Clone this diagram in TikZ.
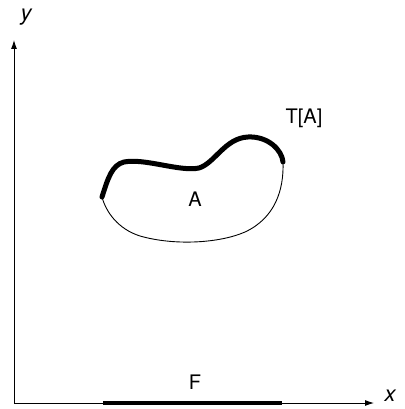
\documentclass[tikz,border=0pt]{standalone}
\usepackage{fontspec}
\setmainfont{TeX Gyre Heros}
\usetikzlibrary{arrows.meta}
\begin{document}
\begin{tikzpicture}[x=1pt,y=-1pt,
  axis/.style={line width=0.9pt,-{Latex[length=9pt,width=6pt]}},
  thickpart/.style={line width=5pt,line cap=round,line join=round},
  thinpart/.style={line width=0.9pt},
  lbl/.style={font=\fontsize{20}{22}\selectfont,inner sep=0pt}]
\useasboundingbox (0,0) rectangle (404,409);
\coordinate (O) at (14,403);
\coordinate (Ytip) at (14,40);
\coordinate (Xtip) at (374,403);
\draw[axis] (O) -- (Ytip);
\draw[axis] (O) -- (Xtip);
\node[lbl,font=\fontsize{22}{24}\selectfont\itshape] (ylab) at (26,17) {y};
\node[lbl,font=\fontsize{22}{24}\selectfont\itshape] (xlab) at (390,396) {x};
% set A boundary
\coordinate (L) at (102,197);
\coordinate (R) at (283,162);
\draw[thickpart] (L) .. controls (108,178) and (112,165) .. (124,162)
  .. controls (145,158) and (180,172) .. (199,168)
  .. controls (215,163) and (225,138) .. (248,137)
  .. controls (268,136) and (282,150) .. (R);
\draw[thinpart] (R) .. controls (284,190) and (275,218) .. (245,232)
  .. controls (220,243) and (175,246) .. (140,236)
  .. controls (118,229) and (106,212) .. (L);
\node[lbl] (A) at (195,199) {A};
\node[lbl] (TA) at (304,118) {T[A]};
\coordinate (F1) at (103,403);
\coordinate (F2) at (282,403);
\draw[line width=4.5pt] (F1) -- (F2);
\node[lbl] (F) at (195,382) {F};
\end{tikzpicture}
\end{document}
